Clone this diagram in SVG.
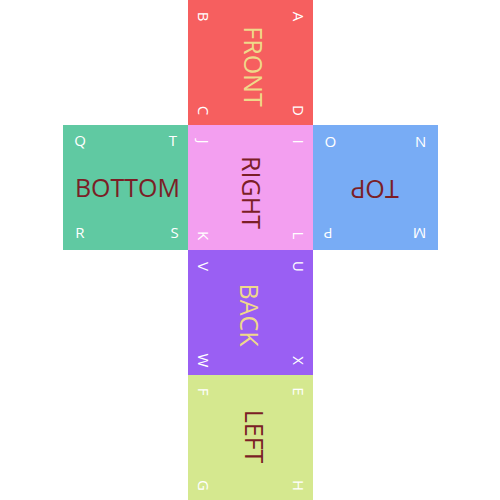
<svg xmlns="http://www.w3.org/2000/svg" width="500" height="500" viewBox="0 0 500 500">
<style>
text{font-family:"Open Sans","DejaVu Sans",sans-serif;text-anchor:middle}
.lbl{font-size:25px}
.c{font-size:15px;fill:#ffffff}
.dark{fill:#7b1e26}
.light{fill:#efd98a}
</style>
<rect width="500" height="500" fill="#ffffff"/>
<g id="front">
<rect x="188" y="0" width="125" height="125" fill="#f65f5f"/>
<text class="lbl light" transform="translate(244,66.5) rotate(90)">FRONT</text>
<text class="c" transform="translate(293,16.5) rotate(90)">A</text>
<text class="c" transform="translate(198,16.5) rotate(90)">B</text>
<text class="c" transform="translate(198,110.5) rotate(90)">C</text>
<text class="c" transform="translate(293,110.5) rotate(90)">D</text>
</g>
<g id="bottom">
<rect x="63" y="125" width="125" height="125" fill="#60c9a2"/>
<text class="lbl dark" x="127.5" y="197">BOTTOM</text>
<text class="c" x="80" y="146">Q</text>
<text class="c" x="173" y="146">T</text>
<text class="c" x="80" y="238">R</text>
<text class="c" x="174.5" y="238">S</text>
</g>
<g id="right">
<rect x="188" y="125" width="125" height="125" fill="#f39ff0"/>
<text class="lbl dark" transform="translate(242,192.5) rotate(90)">RIGHT</text>
<text class="c" transform="translate(293,141.5) rotate(90)">I</text>
<text class="c" transform="translate(198,141.5) rotate(90)">J</text>
<text class="c" transform="translate(198,235.5) rotate(90)">K</text>
<text class="c" transform="translate(293,235.5) rotate(90)">L</text>
</g>
<g id="top">
<rect x="313" y="125" width="125" height="125" fill="#78acf5"/>
<text class="lbl dark" transform="translate(374.5,180) rotate(180)">TOP</text>
<text class="c" transform="translate(330.5,137) rotate(180)">O</text>
<text class="c" transform="translate(420.5,137) rotate(180)">N</text>
<text class="c" transform="translate(328,228) rotate(180)">P</text>
<text class="c" transform="translate(419.5,228) rotate(180)">M</text>
</g>
<g id="back">
<rect x="188" y="250" width="125" height="125" fill="#9a5ff3"/>
<text class="lbl light" transform="translate(240,315) rotate(90)">BACK</text>
<text class="c" transform="translate(293,266.5) rotate(90)">U</text>
<text class="c" transform="translate(198,266.5) rotate(90)">V</text>
<text class="c" transform="translate(198,360.5) rotate(90)">W</text>
<text class="c" transform="translate(293,360.5) rotate(90)">X</text>
</g>
<g id="left">
<rect x="188" y="375" width="125" height="125" fill="#d5e88f"/>
<text class="lbl dark" transform="translate(245,436.5) rotate(90)">LEFT</text>
<text class="c" transform="translate(293,391.5) rotate(90)">E</text>
<text class="c" transform="translate(198,391.5) rotate(90)">F</text>
<text class="c" transform="translate(198,485.5) rotate(90)">G</text>
<text class="c" transform="translate(293,485.5) rotate(90)">H</text>
</g>
</svg>
